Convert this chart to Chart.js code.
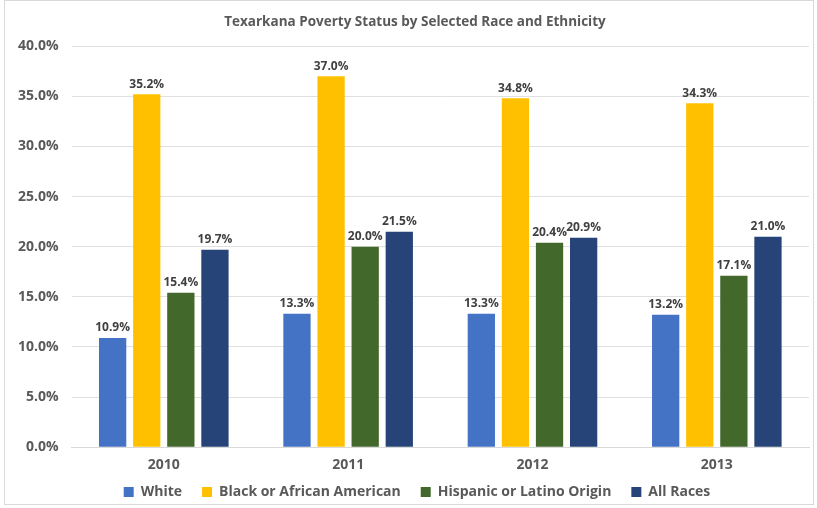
<!DOCTYPE html>
<html>
<head>
<meta charset="utf-8">
<script src="https://cdn.jsdelivr.net/npm/chart.js@4.4.0/dist/chart.umd.min.js"></script>
<style>
    html, body { margin: 0; padding: 0; background: #fff; }
    #wrap { position: absolute; left: 4px; top: 0px; width: 810px; height: 505px; border: 1px solid #d9d9d9; box-sizing: border-box; }
    #myChart { position: absolute; left: 0; top: 0; }
</style>
</head>
<body>
<div id="wrap"><canvas id="myChart" width="808" height="503"></canvas></div>
<script>
const years = ["2010", "2011", "2012", "2013"];
const white = [10.9, 13.3, 13.3, 13.2];
const black = [35.2, 37.0, 34.8, 34.3];
const hispanic = [15.4, 20.0, 20.4, 17.1];
const allRaces = [19.7, 21.5, 20.9, 21.0];

const fontFamily = "'Open Sans', 'DejaVu Sans', sans-serif";
const textColor = "#595959";

// draws the value above each bar
const barLabels = {
    id: "barLabels",
    afterDatasetsDraw(chart) {
        const ctx = chart.ctx;
        ctx.save();
        ctx.font = "bold 12px " + fontFamily;
        ctx.fillStyle = "#404040";
        ctx.textAlign = "center";
        ctx.textBaseline = "bottom";
        chart.data.datasets.forEach((ds, i) => {
            chart.getDatasetMeta(i).data.forEach((bar, j) => {
                ctx.fillText(ds.data[j].toFixed(1) + "%", bar.x, bar.y - 4);
            });
        });
        ctx.restore();
    }
};

// wide gaps between legend items, but less height reserved under them,
// and title/legend nudged right like the original
const legendFit = {
    id: "legendFit",
    beforeInit(chart) {
        const fit = chart.legend.fit;
        chart.legend.fit = function () {
            fit.call(this);
            this.height -= 14;
        };
    },
    afterLayout(chart) {
        const lg = chart.legend;
        lg.top -= 9;
        lg.height += 9;
        lg.left += 10;
        lg.right += 10;
        chart.titleBlock.left += 8;
        chart.titleBlock.right += 8;
    }
};

const ctx = document.getElementById("myChart").getContext("2d");
new Chart(ctx, {
    type: "bar",
    data: {
        labels: years,
        datasets: [
            { label: "White", data: white, backgroundColor: "#4472c4" },
            { label: "Black or African American", data: black, backgroundColor: "#ffc000" },
            { label: "Hispanic or Latino Origin", data: hispanic, backgroundColor: "#43682b" },
            { label: "All Races", data: allRaces, backgroundColor: "#264478" }
        ]
    },
    options: {
        responsive: false,
        animation: false,
        datasets: {
            bar: { barPercentage: 0.8, categoryPercentage: 0.74 }
        },
        layout: { padding: { top: 0, right: 4, left: 0, bottom: 0 } },
        plugins: {
            title: {
                display: true,
                text: "Texarkana Poverty Status by Selected Race and Ethnicity",
                color: textColor,
                font: { family: fontFamily, size: 13.5, weight: "bold" },
                padding: { top: 13, bottom: 16 }
            },
            legend: {
                position: "bottom",
                labels: {
                    color: textColor,
                    font: { family: fontFamily, size: 14, weight: "bold" },
                    boxWidth: 10,
                    boxHeight: 10,
                    padding: 20
                }
            },
            tooltip: { enabled: false }
        },
        scales: {
            x: {
                grid: { display: false },
                border: { color: "#d9d9d9" },
                ticks: {
                    color: textColor,
                    font: { family: fontFamily, size: 14, weight: "bold" },
                    padding: 1
                }
            },
            y: {
                min: 0,
                max: 40,
                grid: { color: "#e0e0e0", drawTicks: false },
                border: { display: false },
                ticks: {
                    stepSize: 5,
                    color: textColor,
                    padding: 13,
                    font: { family: fontFamily, size: 14, weight: "bold" },
                    callback: val => val.toFixed(1) + "%"
                }
            }
        }
    },
    plugins: [barLabels, legendFit]
});
</script>
</body>
</html>
